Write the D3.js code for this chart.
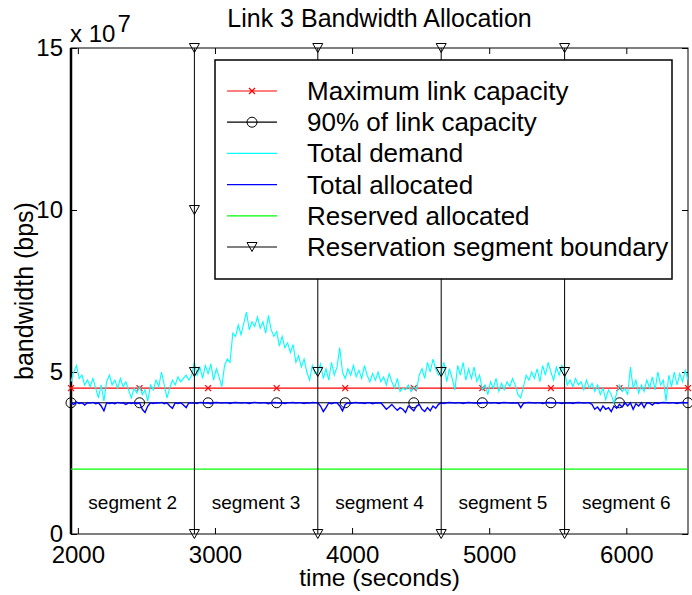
<!DOCTYPE html>
<html>
<head>
<meta charset="utf-8">
<script src="https://cdn.jsdelivr.net/npm/d3@7"></script>
<style>
body { margin: 0; background: #fff; }
svg { font-family: "Liberation Sans", Arial, Helvetica, sans-serif; }
</style>
</head>
<body>
<div id="chart"></div>
<script>
"use strict";

// Samples every 20 s starting at t = 1950 s. Values in units of 1e7 bps.
var sampleStart = 1950;
var sampleStep = 20;

var demand = [
    // segment 2
    4.7, 5.0, 5.2, 4.8, 4.9, 4.6, 4.75, 4.55, 4.8, 4.5,
    4.2, 4.6, 4.1, 4.7, 4.9, 4.6, 4.75, 4.5, 4.8, 4.55,
    4.7, 4.45, 4.2, 4.5, 4.35, 4.55, 4.3, 4.45, 4.1, 4.6,
    4.45, 4.75, 4.55, 5.0, 4.6, 4.2, 4.5, 4.75, 4.6, 4.85,
    4.7, 4.8, 4.9, 4.75, 4.9,
    // segment 3
    5.3, 4.9, 5.15, 4.8, 5.2, 4.95, 5.25, 4.75, 5.1, 4.85,
    4.55, 5.2, 5.4, 5.3, 6.2, 6.1, 6.45, 6.15, 6.5, 6.85,
    6.3, 6.55, 6.4, 6.7, 6.35, 6.55, 6.2, 6.75, 6.3, 6.1,
    6.25, 5.8, 6.1, 5.75, 5.9, 5.6, 5.85, 5.3, 5.5, 5.15,
    5.4, 5.0, 4.75, 5.2, 4.95,
    // segment 4
    5.0, 5.25, 4.8, 5.1, 4.75, 5.3, 4.9, 5.15, 5.75, 5.0,
    4.8, 5.1, 4.9, 5.2, 4.85, 5.05, 4.8, 5.2, 4.9, 4.7,
    4.95, 4.75, 5.0, 4.7, 4.85, 4.6, 4.95, 4.7, 4.5, 4.8,
    4.4, 4.5, 4.45, 4.6, 4.4, 4.55, 4.45, 4.9, 5.1, 4.8,
    5.3, 5.0, 5.4, 5.1, 4.9,
    // segment 5
    5.0, 5.3, 4.7, 5.1, 4.8, 4.45, 5.2, 4.9, 5.3, 4.75,
    5.1, 4.8, 5.15, 4.7, 4.9, 4.45, 4.6, 4.3, 4.7, 4.5,
    4.8, 4.4, 4.65, 4.45, 4.7, 4.55, 4.8, 4.6, 4.3, 4.2,
    4.55, 4.9, 4.75, 5.0, 4.8, 5.1, 4.7, 5.2, 4.9, 5.3,
    5.0, 4.75, 5.15, 4.9, 5.2,
    // segment 6
    5.0, 4.6, 4.75, 4.55, 4.8, 4.6, 4.7, 4.45, 4.75, 4.5,
    4.65, 4.4, 4.6, 4.3, 4.5, 4.15, 4.45, 4.3, 4.05, 4.35,
    4.6, 4.4, 4.5, 4.3, 5.15, 4.5, 4.75, 4.35, 4.6, 4.4,
    4.75, 4.5, 4.85, 4.45, 5.0, 4.6, 4.75, 4.1, 4.9, 4.55,
    5.0, 4.6, 4.95, 4.7, 5.05, 4.75
];

var allocated = [
    // segment 2
    4.05, 4.0, 4.07, 4.03, 4.05, 3.98, 4.05, 4.04, 4.06, 4.02,
    4.05, 3.95, 3.8, 4.05, 4.03, 4.05, 4.02, 4.06, 4.04, 4.05,
    4.0, 4.05, 4.03, 4.05, 4.02, 4.05, 3.85, 3.75, 3.95, 4.05,
    4.03, 4.05, 4.04, 4.06, 4.02, 4.05, 3.95, 3.88, 4.05, 4.03,
    4.05, 3.98, 3.9, 4.05, 4.04,
    // segment 3
    4.05, 4.03, 4.06, 4.05, 4.04, 4.05, 4.02, 4.05, 4.06, 4.05,
    4.04, 4.05, 4.05, 4.03, 4.05, 4.06, 4.05, 4.04, 4.05, 4.05,
    4.03, 4.05, 4.06, 4.05, 4.04, 4.05, 4.05, 4.02, 4.05, 4.06,
    4.05, 4.04, 4.05, 4.03, 4.05, 4.05, 4.06, 4.04, 4.05, 4.05,
    4.03, 4.05, 4.04, 4.06, 4.05,
    // segment 4
    4.05, 3.95, 3.78, 3.9, 4.05, 4.02, 4.05, 4.05, 3.95, 3.8,
    4.0, 4.05, 4.03, 4.05, 4.06, 4.04, 4.05, 4.03, 4.05, 4.05,
    4.02, 4.05, 4.04, 4.05, 3.95, 3.85, 3.92, 4.0, 3.9, 3.82,
    3.9, 3.85, 3.75, 3.95, 3.88, 3.8, 3.95, 4.0, 3.85, 3.78,
    3.9, 3.8, 3.95, 3.88, 4.0,
    // segment 5
    4.05, 4.03, 4.05, 4.06, 4.05, 4.04, 4.05, 4.05, 4.03, 4.05,
    4.06, 4.05, 4.04, 4.05, 4.03, 4.05, 4.05, 4.06, 4.04, 4.05,
    4.05, 4.03, 4.05, 4.06, 4.05, 4.04, 4.05, 4.04, 4.05, 3.9,
    4.03, 4.05, 4.06, 4.05, 4.04, 4.05, 4.05, 4.03, 4.05, 4.06,
    4.05, 4.04, 4.05, 4.05, 4.03,
    // segment 6
    4.05, 4.04, 4.05, 4.03, 4.05, 4.06, 4.05, 4.04, 4.05, 4.05,
    4.0, 3.85, 3.92, 3.8, 3.95, 3.85, 3.9, 3.78, 3.95, 3.88,
    4.0, 3.92, 4.05, 3.95, 4.05, 3.85, 4.02, 3.95, 4.05, 3.9,
    4.05, 4.04, 3.98, 4.05, 4.03, 4.05, 4.06, 4.05, 4.04, 4.05,
    4.05, 4.03, 4.05, 4.06, 4.05, 4.05
];

var maxCapacity = 4.5e7;
var capacity90 = 4.05e7;
var reservedAllocated = 2e7;
var markerTimes = [1950, 2450, 2950, 3450, 3950, 4450, 4950, 5450, 5950, 6450];

var boundaryTimes = [2850, 3750, 4650, 5550];
var boundaryMarks = [0, 5e7, 10e7, 15e7];
var segmentNames = ["segment 2", "segment 3", "segment 4", "segment 5", "segment 6"];
var segmentStarts = [1950, 2850, 3750, 4650, 5550];
var segmentLength = 900;

var xTicks = [2000, 3000, 4000, 5000, 6000];
var yTicks = [0, 5e7, 10e7, 15e7];

var legendLabels = [
    "Maximum link capacity",
    "90% of link capacity",
    "Total demand",
    "Total allocated",
    "Reserved allocated",
    "Reservation segment boundary"
];

function linkChart(parent) {
    var totalWidth = 692, totalHeight = 595;
    var margin = { top: 48, bottom: 61, left: 71, right: 4 };
    var width = totalWidth - margin.left - margin.right;
    var height = totalHeight - margin.top - margin.bottom;

    var svg = d3.select(parent).append("svg")
        .attr("width", totalWidth)
        .attr("height", totalHeight);

    var x = d3.scaleLinear().domain([1950, 6450]).range([0, width]);
    var y = d3.scaleLinear().domain([0, 15e7]).range([height, 0]);

    var g = svg.append("g")
        .attr("transform", "translate(" + margin.left + "," + margin.top + ")");

    var sampleTime = function (i) { return sampleStart + i * sampleStep; };

    // inward ticks on all four sides
    var bottomAxis = g.append("g")
        .attr("transform", "translate(0," + height + ")")
        .call(d3.axisBottom(x).tickValues(xTicks).tickSize(-6).tickPadding(12)
            .tickFormat(d3.format("d")));
    g.append("g")
        .call(d3.axisTop(x).tickValues(xTicks).tickSize(-6).tickFormat(""));
    var leftAxis = g.append("g")
        .call(d3.axisLeft(y).tickValues(yTicks).tickSize(-6).tickPadding(8)
            .tickFormat(function (d) { return d / 1e7; }));
    g.append("g")
        .attr("transform", "translate(" + width + ",0)")
        .call(d3.axisRight(y).tickValues(yTicks).tickSize(-6).tickFormat(""));
    g.selectAll(".domain").remove();
    g.selectAll(".tick line").attr("stroke", "#000");
    bottomAxis.selectAll("text").style("font-size", "24px").attr("fill", "#000");
    leftAxis.selectAll("text").style("font-size", "24px").attr("fill", "#000");

    // plot box
    g.append("rect")
        .attr("width", width)
        .attr("height", height)
        .attr("fill", "none")
        .attr("stroke", "#000")
        .attr("stroke-width", 1);
    g.append("line")
        .attr("x1", 0).attr("x2", 0)
        .attr("y1", 0).attr("y2", height)
        .attr("stroke", "#000")
        .attr("stroke-width", 2.5);

    var line = d3.line()
        .x(function (d, i) { return x(sampleTime(i)); })
        .y(function (d) { return y(d * 1e7); });

    function hLine(value, color, w) {
        g.append("line")
            .attr("x1", 0).attr("x2", width)
            .attr("y1", y(value)).attr("y2", y(value))
            .attr("stroke", color)
            .attr("stroke-width", w);
    }

    function crossMark(sel, size) {
        sel.append("path")
            .attr("d", "M" + -size + "," + -size + "L" + size + "," + size +
                "M" + -size + "," + size + "L" + size + "," + -size)
            .attr("stroke", "#f00")
            .attr("stroke-width", 1.2)
            .attr("fill", "none");
    }
    var triangle = "M-5,-4.5L5,-4.5L0,4.5Z";

    // max link capacity
    hLine(maxCapacity, "#f00", 1.3);
    g.selectAll(".xmark")
      .data(markerTimes)
      .enter()
      .append("g")
        .attr("transform", function (d) { return "translate(" + x(d) + "," + y(maxCapacity) + ")"; })
        .call(crossMark, 3);

    // 90% of link capacity
    hLine(capacity90, "#000", 1);
    g.selectAll(".omark")
      .data(markerTimes)
      .enter()
      .append("circle")
        .attr("cx", function (d) { return x(d); })
        .attr("cy", y(capacity90))
        .attr("r", 5)
        .attr("fill", "none")
        .attr("stroke", "#000")
        .attr("stroke-width", 1);

    // demand and allocation
    g.append("path")
        .datum(demand)
        .attr("d", line)
        .attr("fill", "none")
        .attr("stroke", "#0ff")
        .attr("stroke-width", 1.1);
    g.append("path")
        .datum(allocated)
        .attr("d", line)
        .attr("fill", "none")
        .attr("stroke", "#00f")
        .attr("stroke-width", 1.4);
    hLine(reservedAllocated, "#0f0", 1.3);

    // reservation segment boundaries
    boundaryTimes.forEach(function (t) {
        g.append("line")
            .attr("x1", x(t)).attr("x2", x(t))
            .attr("y1", y(0)).attr("y2", y(15e7))
            .attr("stroke", "#000")
            .attr("stroke-width", 1);
        g.selectAll(null)
          .data(boundaryMarks)
          .enter()
          .append("path")
            .attr("d", triangle)
            .attr("transform", function (d) { return "translate(" + x(t) + "," + y(d) + ")"; })
            .attr("fill", "none")
            .attr("stroke", "#000")
            .attr("stroke-width", 1);
    });

    // segment labels
    g.selectAll(".seglabel")
      .data(segmentNames)
      .enter()
      .append("text")
        .attr("x", function (d, i) { return x(segmentStarts[i] + segmentLength / 2); })
        .attr("y", 461)
        .style("text-anchor", "middle")
        .style("font-size", "19px")
        .text(function (d) { return d; });

    // legend
    var legend = svg.append("g").attr("transform", "translate(215,60)");
    legend.append("rect")
        .attr("width", 457)
        .attr("height", 219)
        .attr("fill", "#fff")
        .attr("stroke", "#000")
        .attr("stroke-width", 1.5);
    var rows = legend.selectAll(".row")
      .data(legendLabels)
      .enter()
      .append("g")
        .attr("transform", function (d, i) { return "translate(0," + (31 + i * 31.2) + ")"; });
    var sampleColors = ["#f00", "#000", "#0ff", "#00f", "#0f0", "#000"];
    rows.append("line")
        .attr("x1", 12).attr("x2", 62)
        .attr("stroke", function (d, i) { return sampleColors[i]; })
        .attr("stroke-width", 1.2);
    crossMark(rows.filter(function (d, i) { return i === 0; })
        .append("g").attr("transform", "translate(37,0)"), 3);
    rows.filter(function (d, i) { return i === 1; })
        .append("circle")
        .attr("cx", 37).attr("r", 5)
        .attr("fill", "none").attr("stroke", "#000");
    rows.filter(function (d, i) { return i === 5; })
        .append("path")
        .attr("d", triangle)
        .attr("transform", "translate(37,0)")
        .attr("fill", "none").attr("stroke", "#000");
    rows.append("text")
        .attr("x", 92)
        .attr("y", 9)
        .style("font-size", "26px")
        .text(function (d) { return d; });

    // title, axis labels and exponent
    svg.append("text")
        .attr("x", margin.left + width / 2)
        .attr("y", 27)
        .style("text-anchor", "middle")
        .style("font-size", "25px")
        .text("Link 3 Bandwidth Allocation");
    svg.append("text")
        .attr("x", margin.left + width / 2)
        .attr("y", 586)
        .style("text-anchor", "middle")
        .style("font-size", "24.5px")
        .text("time (seconds)");
    svg.append("text")
        .attr("transform", "translate(33," + (margin.top + height / 2) + ") rotate(-90)")
        .style("text-anchor", "middle")
        .style("font-size", "25px")
        .text("bandwidth (bps)");
    var expo = svg.append("text")
        .attr("x", 70)
        .attr("y", 42)
        .style("font-size", "24px");
    expo.append("tspan").text("x 10");
    expo.append("tspan").attr("dx", 2).attr("dy", -10).text("7");
}

linkChart(document.getElementById("chart"));
</script>
</body>
</html>
